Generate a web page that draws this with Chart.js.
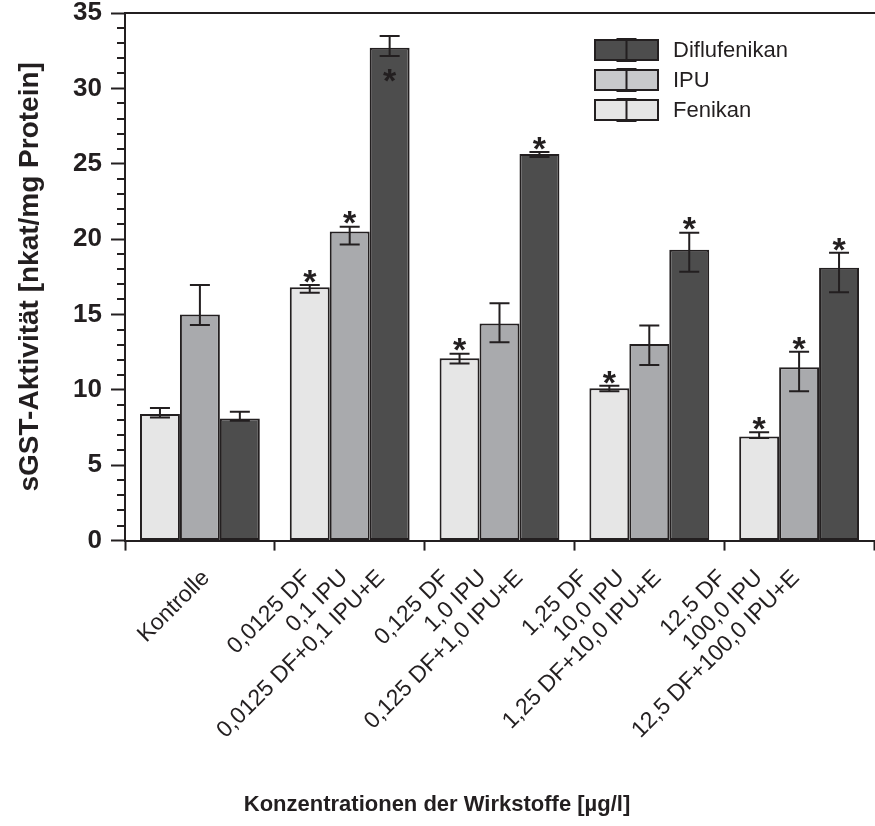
<!DOCTYPE html>
<html>
<head>
<meta charset="utf-8">
<script src="https://cdn.jsdelivr.net/npm/chart.js@4/dist/chart.umd.min.js"></script>
<style>
html,body{margin:0;padding:0;background:#fff;}
#wrap{width:875px;height:826px;position:relative;}
</style>
</head>
<body>
<div id="wrap"><canvas id="c" width="875" height="826"></canvas></div>
<script>
// ---- data ----
const categories = ['Kontrolle', '0,0125', '0,125', '1,25', '12,5'];
const seriesNames = ['Fenikan', 'IPU', 'Diflufenikan'];

const fenikan      = [8.4, 16.8, 12.1, 10.1, 6.9];
const fenikanLow   = [8.17, 16.45, 11.75, 9.9, 6.8];
const fenikanHigh  = [8.8, 16.95, 12.4, 10.27, 7.18];
const fenikanSig   = [0, 1, 1, 1, 1];

const ipu          = [15.0, 20.5, 14.4, 13.05, 11.5];
const ipuLow       = [14.3, 19.65, 13.15, 11.65, 9.9];
const ipuHigh      = [16.95, 20.82, 15.75, 14.27, 12.52];
const ipuSig       = [0, 1, 0, 0, 1];

const diflu        = [8.1, 32.7, 25.65, 19.3, 18.1];
const difluLow     = [7.95, 32.14, 25.45, 17.83, 16.48];
const difluHigh    = [8.55, 33.47, 25.78, 20.43, 19.09];
const difluSig     = [0, 2, 1, 1, 1]; // 1 = above error bar, 2 = inside bar below error bar

const barLabels = [
  [null, 'Kontrolle', null],
  ['0,0125 DF', '0,1 IPU', '0,0125 DF+0,1 IPU+E'],
  ['0,125 DF', '1,0 IPU', '0,125 DF+1,0 IPU+E'],
  ['1,25 DF', '10,0 IPU', '1,25 DF+10,0 IPU+E'],
  ['12,5 DF', '100,0 IPU', '12,5 DF+100,0 IPU+E']
];

const yTicksMin = 0, yTicksMax = 35, yMajorStep = 5, yMinorStep = 1;
const yTitle = 'sGST-Aktivität [nkat/mg Protein]';
const xTitle = 'Konzentrationen der Wirkstoffe [µg/l]';

// ---- style ----
const FG = '#231f20';
const FONT = "'Liberation Sans', Arial, Helvetica, sans-serif";
const CAT_PCT = 0.8;
const colors = ['#e6e6e6', '#a9aaad', '#4d4d4d'];
const legendColors = ['#e6e6e6', '#c8c9cb', '#4d4d4d'];

// label positions on a linear helper axis, following the bar slots
const tickPos = [], tickText = [];
barLabels.forEach((grp, g) => {
  grp.forEach((t, k) => {
    if (t) {
      tickPos.push(g + 0.5 + (k - (seriesNames.length - 1) / 2) * CAT_PCT / seriesNames.length);
      tickText.push(t);
    }
  });
});

const seriesData = [
  {v: fenikan, lo: fenikanLow, hi: fenikanHigh, sig: fenikanSig},
  {v: ipu, lo: ipuLow, hi: ipuHigh, sig: ipuSig},
  {v: diflu, lo: difluLow, hi: difluHigh, sig: difluSig}
];

const datasets = seriesData.map((s, i) => ({
  label: seriesNames[i],
  data: s.v,
  errLow: s.lo,
  errHigh: s.hi,
  sig: s.sig,
  backgroundColor: colors[i],
  legendColor: legendColors[i],
  borderColor: FG,
  borderWidth: 2,
  borderSkipped: false,
  categoryPercentage: CAT_PCT,
  barPercentage: 1.0
}));

const errPlugin = {
  id: 'errbars',
  afterDatasetsDraw(chart) {
    const ctx = chart.ctx, ys = chart.scales.y;
    ctx.save();
    ctx.strokeStyle = FG;
    ctx.lineWidth = 2;
    ctx.lineCap = 'butt';
    chart.data.datasets.forEach((ds, di) => {
      const meta = chart.getDatasetMeta(di);
      meta.data.forEach((bar, i) => {
        const x = bar.x;
        const yl = ys.getPixelForValue(ds.errLow[i]);
        const yh = ys.getPixelForValue(ds.errHigh[i]);
        ctx.beginPath();
        ctx.moveTo(x, yl); ctx.lineTo(x, yh);
        ctx.moveTo(x - 10, yl); ctx.lineTo(x + 10, yl);
        ctx.moveTo(x - 10, yh); ctx.lineTo(x + 10, yh);
        ctx.stroke();
        if (ds.sig[i]) {
          const size = 34;
          ctx.font = 'bold ' + size + 'px ' + FONT;
          ctx.fillStyle = FG;
          ctx.textAlign = 'center';
          ctx.textBaseline = 'alphabetic';
          const cy = ds.sig[i] === 1 ? yh - 12 : yl + 16;
          ctx.fillText('*', x, cy + 0.58 * size);
        }
      });
    });
    ctx.restore();
  }
};

const minorTickPlugin = {
  id: 'minorticks',
  afterDraw(chart) {
    const ctx = chart.ctx, ys = chart.scales.y;
    ctx.save();
    ctx.strokeStyle = FG;
    ctx.lineWidth = 2;
    for (let v = yTicksMin; v <= yTicksMax; v += yMinorStep) {
      if (v % yMajorStep === 0) continue;
      const py = Math.round(ys.getPixelForValue(v));
      ctx.beginPath();
      ctx.moveTo(ys.right - 8, py);
      ctx.lineTo(ys.right, py);
      ctx.stroke();
    }
    ctx.restore();
  }
};

const legendPlugin = {
  id: 'customLegend',
  afterDraw(chart) {
    const ctx = chart.ctx;
    const items = chart.data.datasets.slice().reverse();
    const bx = 595, bw = 63, bh = 20, top = 50, step = 30, tx = 673;
    ctx.save();
    items.forEach((ds, r) => {
      const cy = top + r * step;
      ctx.fillStyle = ds.legendColor;
      ctx.fillRect(bx, cy - bh / 2, bw, bh);
      ctx.strokeStyle = FG;
      ctx.lineWidth = 2;
      ctx.strokeRect(bx, cy - bh / 2, bw, bh);
      const ex = bx + bw / 2;
      ctx.beginPath();
      ctx.moveTo(ex, cy - 12); ctx.lineTo(ex, cy + 12);
      ctx.moveTo(ex - 10, cy - 11); ctx.lineTo(ex + 10, cy - 11);
      ctx.moveTo(ex - 10, cy + 11); ctx.lineTo(ex + 10, cy + 11);
      ctx.stroke();
      ctx.fillStyle = FG;
      ctx.font = '22px ' + FONT;
      ctx.textAlign = 'left';
      ctx.textBaseline = 'middle';
      ctx.fillText(ds.label, tx, cy + 1);
    });
    ctx.restore();
  }
};

new Chart(document.getElementById('c'), {
  type: 'bar',
  data: {labels: categories, datasets: datasets},
  options: {
    responsive: false,
    animation: false,
    devicePixelRatio: 1,
    layout: {padding: {top: 13, left: 0, right: 1, bottom: 0}},
    plugins: {
      legend: {display: false},
      tooltip: {enabled: false},
      title: {display: true, position: 'bottom', text: xTitle, color: FG,
              font: {family: FONT, size: 22, weight: 'bold'}, padding: {top: 0, bottom: 8}}
    },
    scales: {
      x: {
        type: 'category',
        position: 'bottom',
        weight: 0,
        grid: {display: true, drawOnChartArea: false, drawTicks: true, tickLength: 10, tickWidth: 2, tickColor: FG, offset: true},
        border: {display: true, color: FG, width: 2},
        ticks: {display: false},
        afterFit(s) { s.height = 10; s.paddingLeft = 0; s.paddingRight = 0; }
      },
      x2: {
        type: 'linear',
        position: 'bottom',
        weight: 1,
        min: 0, max: categories.length,
        grid: {display: false, drawTicks: false},
        border: {display: false},
        afterBuildTicks(s) { s.ticks = tickPos.map(v => ({value: v})); },
        ticks: {
          autoSkip: false, maxRotation: 45, minRotation: 45, padding: 14, labelOffset: -17,
          color: FG, font: {family: FONT, size: 23},
          callback: (v, i) => tickText[i]
        },
        afterFit(s) { s.height = 241; s.paddingLeft = 0; s.paddingRight = 0; }
      },
      xTop: {
        type: 'linear',
        position: 'top',
        min: 0, max: categories.length,
        grid: {display: false},
        border: {display: true, color: FG, width: 2},
        ticks: {display: false},
        afterFit(s) { s.height = 0; s.paddingLeft = 0; s.paddingRight = 0; }
      },
      y: {
        min: yTicksMin, max: yTicksMax,
        ticks: {stepSize: yMajorStep, color: FG, padding: 9, font: {family: FONT, size: 26, weight: 'bold'}},
        grid: {drawOnChartArea: false, tickLength: 14, tickWidth: 2, tickColor: FG},
        border: {color: FG, width: 2},
        title: {display: true, text: yTitle, color: FG, font: {family: FONT, size: 28, weight: 'bold'}, padding: {top: 13, bottom: 0}},
        afterFit(s) { s.width = 125; s.paddingTop = 0; s.paddingBottom = 0; }
      }
    }
  },
  plugins: [errPlugin, minorTickPlugin, legendPlugin]
});
</script>
</body>
</html>
